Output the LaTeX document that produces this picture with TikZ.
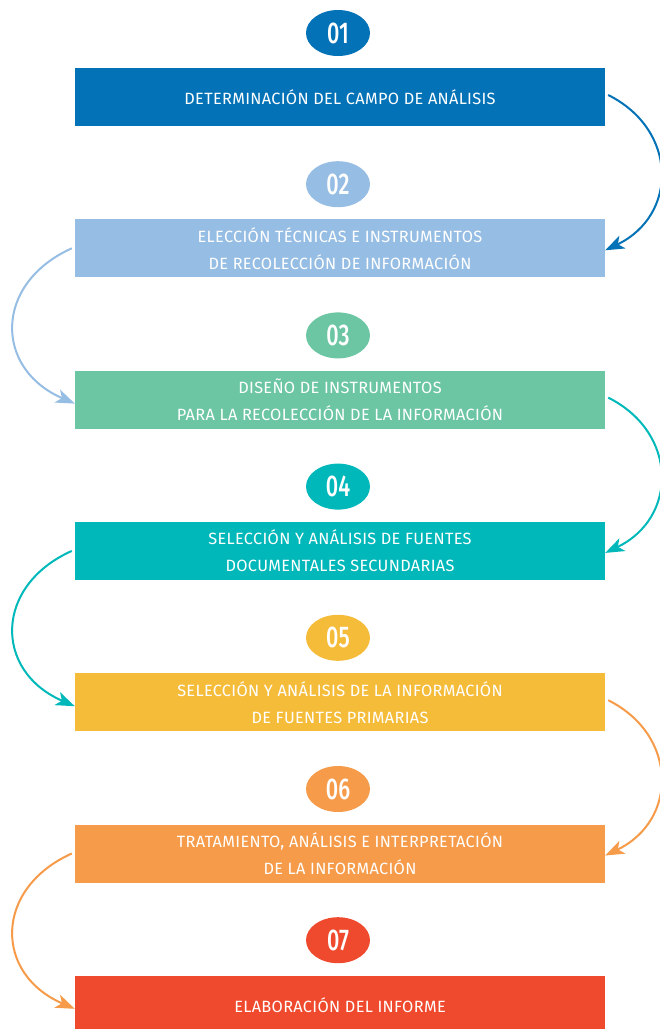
\documentclass[tikz,border=0pt]{standalone}
\usepackage{fontspec}
\setmainfont{Fira Sans}[LetterSpace=2]
\newfontfamily\numfont{Fira Sans Medium}[FakeStretch=0.72]
\usetikzlibrary{arrows.meta,shapes.geometric}
\definecolor{cA}{HTML}{0472B6}
\definecolor{cB}{HTML}{96BDE3}
\definecolor{cC}{HTML}{6CC6A4}
\definecolor{cD}{HTML}{00B8BA}
\definecolor{cE}{HTML}{F5BC3A}
\definecolor{cF}{HTML}{F59B4A}
\definecolor{cG}{HTML}{EF4A2D}
\tikzset{
  stepbox/.style={rectangle, minimum width=530pt, minimum height=58pt, inner sep=0pt,
    text=white, align=center, font=\fontsize{16.3}{27}\selectfont},
  numoval/.style={ellipse, minimum width=64pt, minimum height=46pt, inner sep=0pt,
    text=white, font=\numfont\fontsize{30}{30}\selectfont},
  flow/.style={line width=2pt, -{Stealth[length=19pt,width=14pt,inset=5pt]}},
}
\begin{document}
\begin{tikzpicture}[x=1pt,y=-1pt]
\useasboundingbox (0,0) rectangle (660,1029);
% numbers
\node[numoval, fill=cA] (n1) at (338,33) {01};
\node[numoval, fill=cB] (n2) at (338,184.2) {02};
\node[numoval, fill=cC] (n3) at (338,335.4) {03};
\node[numoval, fill=cD] (n4) at (338,486.6) {04};
\node[numoval, fill=cE] (n5) at (338,637.8) {05};
\node[numoval, fill=cF] (n6) at (338,789) {06};
\node[numoval, fill=cG] (n7) at (338,940.2) {07};
% boxes
\node[stepbox, fill=cA] (b1) at (340,97) {DETERMINACIÓN DEL CAMPO DE ANÁLISIS};
\node[stepbox, fill=cB] (b2) at (340,248.3) {ELECCIÓN TÉCNICAS E INSTRUMENTOS\\DE RECOLECCIÓN DE INFORMACIÓN};
\node[stepbox, fill=cC] (b3) at (340,399.6) {DISEÑO DE INSTRUMENTOS\\PARA LA RECOLECCIÓN DE LA INFORMACIÓN};
\node[stepbox, fill=cD] (b4) at (340,550.9) {SELECCIÓN Y ANÁLISIS DE FUENTES\\DOCUMENTALES SECUNDARIAS};
\node[stepbox, fill=cE] (b5) at (340,702.2) {SELECCIÓN Y ANÁLISIS DE LA INFORMACIÓN\\DE FUENTES PRIMARIAS};
\node[stepbox, fill=cF] (b6) at (340,853.5) {TRATAMIENTO, ANÁLISIS E INTERPRETACIÓN\\DE LA INFORMACIÓN};
\node[stepbox, fill=cG] (b7) at (340,1004.8) {ELABORACIÓN DEL INFORME};
% connectors
\draw[flow, cA] ([xshift=3pt,yshift=2pt]b1.east) .. controls +(70,35) and +(73,-35) .. ([yshift=-2pt]b2.east);
\draw[flow, cB] ([xshift=-3pt]b2.west) .. controls +(-78,35) and +(-81,-35) .. ([yshift=-4pt]b3.west);
\draw[flow, cD] ([xshift=3pt,yshift=2pt]b3.east) .. controls +(70,35) and +(73,-35) .. ([yshift=-2pt]b4.east);
\draw[flow, cD] ([xshift=-3pt]b4.west) .. controls +(-78,35) and +(-81,-35) .. ([yshift=-4pt]b5.west);
\draw[flow, cF] ([xshift=3pt,yshift=2pt]b5.east) .. controls +(70,35) and +(73,-35) .. ([yshift=-2pt]b6.east);
\draw[flow, cF] ([xshift=-3pt]b6.west) .. controls +(-78,35) and +(-81,-35) .. ([yshift=-4pt]b7.west);
\end{tikzpicture}
\end{document}
